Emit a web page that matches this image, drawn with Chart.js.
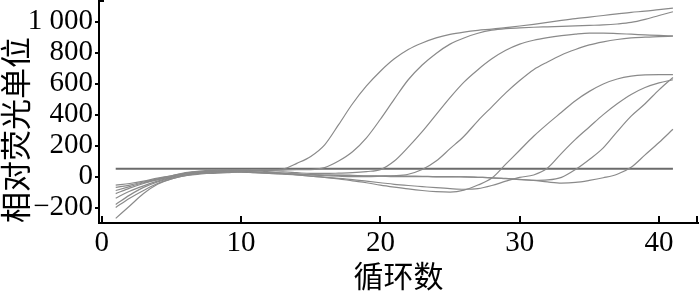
<!DOCTYPE html>
<html lang="zh">
<head>
    <meta charset="UTF-8">
    <title>相对荧光单位</title>
    <script src="https://cdn.jsdelivr.net/npm/chart.js"></script>
    <style>
        body {
            margin: 0;
            background: #fff;
        }
        .chart-container {
            position: relative;
            width: 700px;
            height: 291px;
        }
    </style>
</head>
<body>
    <div class="chart-container">
        <canvas id="chart"></canvas>
    </div>

    <script>
        const cycles = [1, 2, 3, 4, 5, 6, 7, 8, 9, 10, 11, 12, 13, 14, 15, 16, 17, 18, 19, 20,
                        21, 22, 23, 24, 25, 26, 27, 28, 29, 30, 31, 32, 33, 34, 35, 36, 37, 38, 39, 40, 41];

        // amplification curves, one value per cycle
        const curve1 = [-110, -75, -45, -20, 0, 15, 25, 30, 35, 35, 38, 42, 48, 85, 130, 205, 335, 470, 585, 680,
                        760, 820, 862, 895, 918, 933, 944, 952, 962, 972, 983, 995, 1008, 1020, 1030, 1040, 1050, 1060, 1068, 1078, 1087];
        const curve2 = [-55, -45, -30, -10, 5, 25, 35, 40, 42, 40, 38, 40, 42, 44, 45, 58, 100, 160, 250, 370,
                        500, 625, 720, 795, 855, 895, 925, 945, 955, 960, 964, 967, 970, 973, 976, 979, 985, 995, 1015, 1040, 1064];
        const curve3 = [-270, -190, -110, -50, -15, 5, 15, 25, 30, 35, 30, 28, 30, 25, 20, 20, 22, 25, 32, 45,
                        100, 190, 290, 400, 510, 610, 690, 760, 815, 855, 880, 897, 910, 920, 926, 926, 923, 919, 915, 911, 908];
        const curve4 = [-70, -55, -35, -15, 5, 20, 30, 30, 32, 30, 28, 25, 20, 15, 10, 5, 2, 0, 0, 2,
                        5, 15, 45, 100, 180, 260, 360, 450, 540, 620, 690, 740, 785, 820, 850, 870, 885, 895, 900, 904, 906];
        const curve5 = [-140, -95, -60, -30, -5, 10, 25, 20, 25, 30, 25, 20, 15, 10, 2, -5, -15, -28, -40, -55,
                        -68, -80, -90, -97, -100, -88, -55, -10, 80, 170, 260, 340, 415, 490, 550, 598, 630, 648, 656, 658, 658];
        const curve6 = [-90, -65, -40, -20, 0, 20, 30, 35, 40, 42, 40, 30, 20, 10, 2, -5, -12, -20, -30, -40,
                        -50, -58, -65, -72, -78, -82, -78, -58, -30, -5, 10, 55, 150, 240, 320, 400, 470, 530, 575, 605, 625];
        const curve7 = [-200, -140, -90, -45, -15, 5, 20, 30, 35, 30, 25, 20, 18, 15, 12, 10, 10, 8, 5, 5,
                        5, 3, 2, 0, 0, -2, -5, -8, -14, -20, -25, -22, -5, 45, 110, 185, 290, 390, 470, 560, 640];
        const curve8 = [-180, -120, -70, -35, -10, 10, 20, 25, 28, 30, 28, 25, 20, 15, 12, 10, 8, 5, 3, 2,
                        0, 0, 0, -2, -2, -2, -5, -8, -12, -18, -25, -35, -42, -38, -25, -8, 15, 60, 140, 220, 305];

        const threshold = 50;
        const thresholdCycles = [1, 41];

        const xTicks = [0, 10, 20, 30, 40];
        const yTicks = [-200, 0, 200, 400, 600, 800, 1000];
        const xTitle = '循环数';
        const yTitle = '相对荧光单位';

        const curves = [curve1, curve2, curve3, curve4, curve5, curve6, curve7, curve8];

        function toPoints(values) {
            return cycles.map((c, i) => ({ x: c, y: values[i] }));
        }

        const datasets = curves.map(values => ({
            data: toPoints(values),
            borderColor: '#8a8a8a',
            borderWidth: 1.2,
            pointRadius: 0,
            tension: 0.4,
            cubicInterpolationMode: 'monotone',
            fill: false
        }));
        datasets.push({
            data: thresholdCycles.map(c => ({ x: c, y: threshold })),
            borderColor: '#6b6b6b',
            borderWidth: 2,
            pointRadius: 0,
            fill: false
        });

        function yLabel(v) {
            if (v === 1000) return '1 000';
            if (v < 0) return '\u2212' + Math.abs(v);
            return String(v);
        }

        // x ticks point inwards, plus the small marks at the axis ends
        const innerTicks = {
            id: 'innerTicks',
            afterDraw(chart) {
                const ctx = chart.ctx;
                const xScale = chart.scales.x;
                const area = chart.chartArea;
                ctx.save();
                ctx.strokeStyle = '#000';
                ctx.lineWidth = 2;
                ctx.beginPath();
                xTicks.forEach(v => {
                    const px = Math.round(xScale.getPixelForValue(v));
                    ctx.moveTo(px, area.bottom);
                    ctx.lineTo(px, area.bottom - 7);
                });
                ctx.moveTo(area.right - 1, area.bottom);
                ctx.lineTo(area.right - 1, area.bottom - 7);
                ctx.moveTo(area.left, area.top + 1);
                ctx.lineTo(area.left + 5, area.top + 1);
                ctx.stroke();
                ctx.restore();
            }
        };

        const tickFont = { family: "'Liberation Serif', serif", size: 29 };
        const xTitleFont = { family: "'Noto Sans CJK SC', sans-serif", size: 30, lineHeight: 1 };
        const yTitleFont = { family: "'Noto Sans CJK SC', sans-serif", size: 31, lineHeight: 1 };

        new Chart(document.getElementById('chart'), {
            type: 'line',
            data: { datasets: datasets },
            plugins: [innerTicks],
            options: {
                responsive: true,
                maintainAspectRatio: false,
                animation: false,
                layout: { padding: { top: 0, right: 2, bottom: 0, left: 0 } },
                plugins: {
                    legend: { display: false },
                    tooltip: { enabled: false }
                },
                scales: {
                    x: {
                        type: 'linear',
                        min: -0.2,
                        max: 42.8,
                        afterBuildTicks: scale => { scale.ticks = xTicks.map(v => ({ value: v })); },
                        afterFit: scale => {
                            scale.height = 68;
                            scale.paddingLeft = 0;
                            scale.paddingRight = 0;
                        },
                        grid: { display: true, drawOnChartArea: false, drawTicks: false },
                        border: { color: '#000', width: 2 },
                        ticks: { color: '#000', font: tickFont, padding: 3, maxRotation: 0, autoSkip: false },
                        title: { display: true, text: xTitle, color: '#000', font: xTitleFont, padding: 0 }
                    },
                    y: {
                        type: 'linear',
                        min: -300,
                        max: 1140,
                        afterBuildTicks: scale => { scale.ticks = yTicks.map(v => ({ value: v })); },
                        afterFit: scale => {
                            scale.width = 99;
                            scale.paddingTop = 0;
                            scale.paddingBottom = 0;
                        },
                        grid: { drawOnChartArea: false, drawTicks: true, tickLength: 4, color: '#000', lineWidth: 2 },
                        border: { color: '#000', width: 2 },
                        ticks: { color: '#000', font: tickFont, padding: 2, callback: yLabel, autoSkip: false },
                        title: { display: true, text: yTitle, color: '#000', font: yTitleFont, padding: 0, align: 'start' }
                    }
                }
            }
        });
    </script>
</body>
</html>
